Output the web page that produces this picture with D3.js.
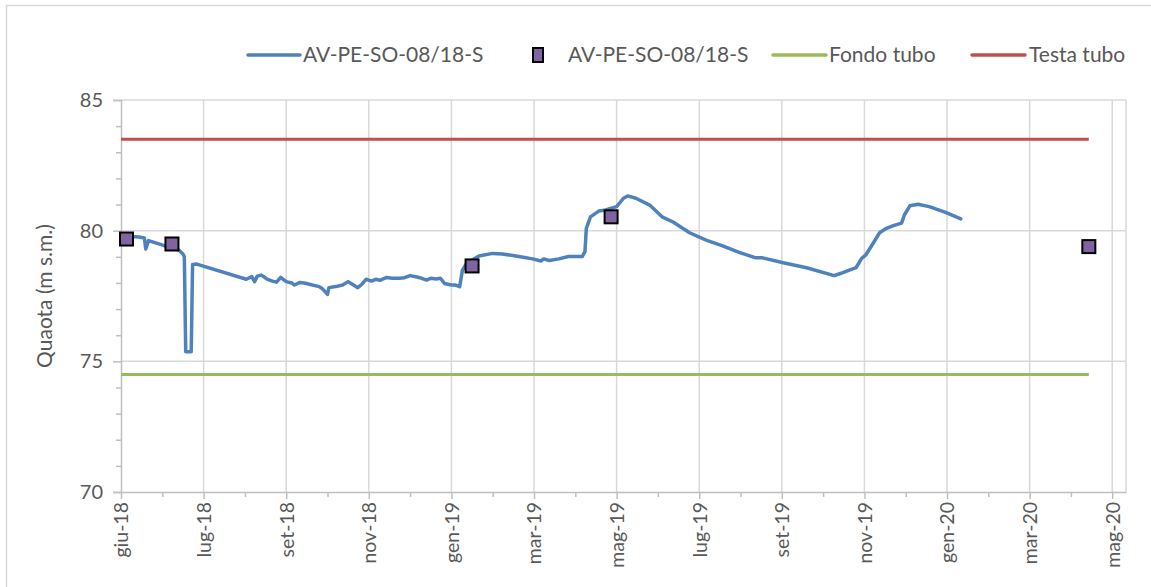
<!DOCTYPE html>
<html>
<head>
<meta charset="utf-8">
<script src="https://cdn.jsdelivr.net/npm/d3@7"></script>
<style>
  body { margin: 0; background: #fff; }
  svg { display: block; }
  text { font-family: Lato, "Open Sans", sans-serif; fill: #595959; }
</style>
</head>
<body>
<svg id="chart" width="1151" height="587"></svg>
<script>
// Continuous groundwater level record (logger)
const levelDates = [
  "2018-06-02","2018-06-14","2018-06-18","2018-06-19","2018-06-21","2018-07-03","2018-07-13","2018-07-16",
  "2018-07-17","2018-07-18","2018-07-22","2018-07-23","2018-07-26","2018-08-31","2018-09-04","2018-09-06",
  "2018-09-08","2018-09-11","2018-09-15","2018-09-19","2018-09-22","2018-09-25","2018-09-29","2018-10-03",
  "2018-10-05","2018-10-09","2018-10-13","2018-10-18","2018-10-23","2018-10-25","2018-10-29","2018-10-30",
  "2018-11-04","2018-11-09","2018-11-13","2018-11-16","2018-11-20","2018-11-23","2018-11-26","2018-11-30",
  "2018-12-03","2018-12-06","2018-12-11","2018-12-15","2018-12-20","2018-12-24","2018-12-28","2019-01-01",
  "2019-01-04","2019-01-09","2019-01-12","2019-01-16","2019-01-19","2019-01-22","2019-01-27","2019-01-30",
  "2019-02-02","2019-02-04","2019-02-07","2019-02-11","2019-02-16","2019-02-26","2019-03-05","2019-03-17",
  "2019-03-27","2019-04-02","2019-04-04","2019-04-08","2019-04-15","2019-04-22","2019-05-02","2019-05-04",
  "2019-05-05","2019-05-08","2019-05-14","2019-05-19","2019-05-27","2019-06-01","2019-06-04","2019-06-10",
  "2019-06-20","2019-06-29","2019-07-07","2019-07-19","2019-07-31","2019-08-12","2019-08-24","2019-09-05",
  "2019-09-10","2019-09-25","2019-10-12","2019-11-01","2019-11-06","2019-11-12","2019-11-17","2019-11-21",
  "2019-11-24","2019-11-29","2019-12-04","2019-12-09","2019-12-14","2019-12-20","2019-12-22","2019-12-26",
  "2020-01-01","2020-01-09","2020-01-21","2020-02-01"
];
const levelValues = [
  79.80, 79.76, 79.72, 79.30, 79.62, 79.42, 79.26, 79.11,
  79.00, 75.37, 75.37, 78.71, 78.72, 78.14, 78.24, 78.05,
  78.26, 78.30, 78.15, 78.07, 78.03, 78.21, 78.05, 78.00,
  77.92, 78.02, 77.99, 77.92, 77.86, 77.79, 77.56, 77.82,
  77.86, 77.92, 78.05, 77.95, 77.82, 77.95, 78.14, 78.07,
  78.14, 78.10, 78.21, 78.18, 78.18, 78.20, 78.28, 78.24,
  78.20, 78.11, 78.18, 78.15, 78.18, 77.98, 77.92, 77.92,
  77.86, 78.49, 78.75, 78.88, 79.03, 79.13, 79.11, 79.01,
  78.92, 78.84, 78.92, 78.86, 78.92, 79.01, 79.01, 79.20,
  80.09, 80.53, 80.75, 80.79, 80.92, 81.24, 81.33, 81.24,
  80.98, 80.53, 80.33, 79.92, 79.64, 79.42, 79.17, 78.96,
  78.96, 78.77, 78.58, 78.28, 78.37, 78.49, 78.59, 78.94,
  79.07, 79.49, 79.92, 80.09, 80.19, 80.29, 80.60, 80.95,
  81.01, 80.92, 80.70, 80.45
];

// Manual readings
const manualDates = ["2018-06-05", "2018-07-08", "2019-02-11", "2019-05-23", "2020-05-04"];
const manualValues = [79.68, 79.49, 78.65, 80.53, 79.39];

// Well reference elevations
const fondoTubo = 74.5;
const testaTubo = 83.5;
const refDates = ["2018-06-01", "2020-05-04"];

// Axis definition
const xDomain = ["2018-06-01", "2020-05-31"];
const xTickDates = [
  "2018-06-01","2018-07-31","2018-09-29","2018-11-28","2019-01-27","2019-03-28","2019-05-27",
  "2019-07-26","2019-09-24","2019-11-23","2020-01-22","2020-03-22","2020-05-21"
];
const xTickLabels = ["giu-18","lug-18","set-18","nov-18","gen-19","mar-19","mag-19",
                     "lug-19","set-19","nov-19","gen-20","mar-20","mag-20"];
const yTicks = [70, 75, 80, 85];
const yMinorTicks = [71, 72, 73, 74, 76, 77, 78, 79, 81, 82, 83, 84];

const seriesNames = ["AV-PE-SO-08/18-S", "AV-PE-SO-08/18-S", "Fondo tubo", "Testa tubo"];
const colors = { level: "#4f81bd", manual: "#8064a2", fondo: "#9bbb59", testa: "#c0504d" };

const parse = d3.utcParse("%Y-%m-%d");
const svg = d3.select("#chart");

const margin = { left: 121, right: 1126, top: 100, bottom: 492 };

const x = d3.scaleUtc().domain(xDomain.map(parse)).range([margin.left, margin.right]);
const y = d3.scaleLinear().domain([70, 85]).range([margin.bottom, margin.top]);

// Outer chart frame
svg.append("rect")
  .attr("x", 6.5).attr("y", 5.5).attr("width", 1170).attr("height", 620)
  .attr("fill", "none").attr("stroke", "#d9d9d9").attr("stroke-width", 1.5);

const grid = svg.append("g").attr("stroke", "#d9d9d9").attr("stroke-width", 1.5);
// horizontal gridlines
grid.selectAll("line.h").data(yTicks.filter(v => v > 70)).join("line")
  .attr("x1", margin.left).attr("x2", margin.right)
  .attr("y1", d => y(d)).attr("y2", d => y(d));
// vertical gridlines
grid.selectAll("line.v").data(xTickDates.slice(1)).join("line")
  .attr("x1", d => x(parse(d))).attr("x2", d => x(parse(d)))
  .attr("y1", margin.top).attr("y2", margin.bottom);
// right plot border
grid.append("line")
  .attr("x1", margin.right).attr("x2", margin.right)
  .attr("y1", margin.top).attr("y2", margin.bottom);

// Y axis
const yAxis = svg.append("g").attr("transform", `translate(${margin.left},0)`)
  .call(d3.axisLeft(y).tickValues(yTicks).tickSize(8).tickPadding(10).tickFormat(d3.format("d")));
yAxis.select(".domain").attr("stroke", "#bfbfbf").attr("stroke-width", 1.5);
yAxis.selectAll(".tick line").attr("stroke", "#bfbfbf").attr("stroke-width", 1.5);
yAxis.selectAll(".tick text").attr("font-size", 20).attr("fill", "#595959")
  .attr("font-family", "Lato, 'Open Sans', sans-serif");
svg.append("g").attr("transform", `translate(${margin.left},0)`)
  .call(d3.axisLeft(y).tickValues(yMinorTicks).tickSize(5).tickFormat(""))
  .call(g => g.select(".domain").remove())
  .selectAll(".tick line").attr("stroke", "#bfbfbf").attr("stroke-width", 1.5);

// X axis
const xAxis = svg.append("g").attr("transform", `translate(0,${margin.bottom})`)
  .call(d3.axisBottom(x).tickValues(xTickDates.map(parse)).tickSize(7).tickSizeOuter(0)
    .tickFormat((d, i) => xTickLabels[i]));
xAxis.select(".domain").attr("stroke", "#bfbfbf").attr("stroke-width", 1.5);
xAxis.selectAll(".tick line").attr("stroke", "#bfbfbf").attr("stroke-width", 1.5);
xAxis.selectAll(".tick text")
  .attr("font-size", 19.5).attr("fill", "#595959")
  .attr("font-family", "Lato, 'Open Sans', sans-serif")
  .attr("transform", "rotate(-90)")
  .attr("text-anchor", "end")
  .attr("x", -10).attr("y", 0).attr("dy", "0.35em");
// minor x ticks halfway between majors
const minorX = xTickDates.map(d => d3.utcDay.offset(parse(d), 30)).filter(d => d < parse(xDomain[1]));
svg.append("g").attr("transform", `translate(0,${margin.bottom})`)
  .call(d3.axisBottom(x).tickValues(minorX).tickSize(5).tickFormat(""))
  .call(g => g.select(".domain").remove())
  .selectAll(".tick line").attr("stroke", "#bfbfbf").attr("stroke-width", 1.5);

// Y axis title
svg.append("text")
  .attr("transform", `translate(52,${(margin.top + margin.bottom) / 2}) rotate(-90)`)
  .attr("text-anchor", "middle")
  .attr("font-size", 21)
  .text("Quaota (m s.m.)");

// Reference lines
const refLine = d3.line().x(d => x(d[0])).y(d => y(d[1]));
svg.append("path")
  .datum(refDates.map(d => [parse(d), fondoTubo]))
  .attr("d", refLine).attr("fill", "none").attr("stroke", colors.fondo).attr("stroke-width", 3);
svg.append("path")
  .datum(refDates.map(d => [parse(d), testaTubo]))
  .attr("d", refLine).attr("fill", "none").attr("stroke", colors.testa).attr("stroke-width", 3);

// Logger record
const levelData = levelDates.map((d, i) => [parse(d), levelValues[i]]);
svg.append("path")
  .datum(levelData)
  .attr("d", d3.line().x(d => x(d[0])).y(d => y(d[1])))
  .attr("fill", "none").attr("stroke", colors.level).attr("stroke-width", 3.5)
  .attr("stroke-linejoin", "round").attr("stroke-linecap", "round");

// Manual readings
const ms = 13;
svg.append("g").selectAll("rect").data(manualDates.map((d, i) => [parse(d), manualValues[i]])).join("rect")
  .attr("x", d => x(d[0]) - ms / 2).attr("y", d => y(d[1]) - ms / 2)
  .attr("width", ms).attr("height", ms)
  .attr("fill", colors.manual).attr("stroke", "#000").attr("stroke-width", 2);

// Legend
const legendY = 55;
const legend = svg.append("g").attr("font-size", 21);
const legendItems = [
  { type: "line", color: colors.level, x0: 248, x1: 300, tx: 303, label: seriesNames[0] },
  { type: "marker", color: colors.manual, cx: 538, tx: 568, label: seriesNames[1] },
  { type: "line", color: colors.fondo, x0: 773, x1: 826, tx: 829, label: seriesNames[2] },
  { type: "line", color: colors.testa, x0: 972, x1: 1025, tx: 1029, label: seriesNames[3] }
];
legendItems.forEach(it => {
  if (it.type === "line") {
    legend.append("line").attr("x1", it.x0).attr("x2", it.x1)
      .attr("y1", legendY).attr("y2", legendY)
      .attr("stroke", it.color).attr("stroke-width", 3.5).attr("stroke-linecap", "round");
  } else {
    legend.append("rect").attr("x", it.cx - 5).attr("y", legendY - 7)
      .attr("width", 10).attr("height", 14)
      .attr("fill", it.color).attr("stroke", "#000").attr("stroke-width", 2);
  }
  legend.append("text").attr("x", it.tx).attr("y", legendY).attr("dy", "0.35em").text(it.label);
});
</script>
</body>
</html>
